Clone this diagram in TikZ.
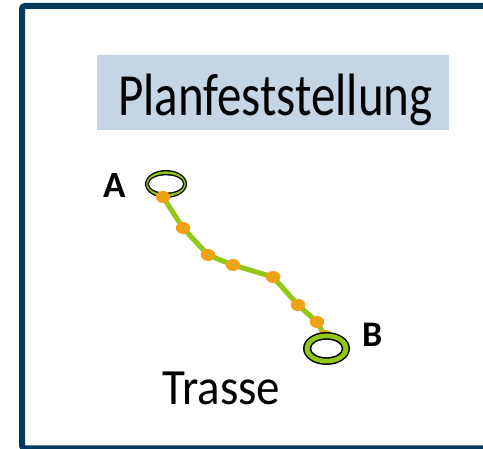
\documentclass[tikz,border=0pt]{standalone}
\usepackage{fontspec}
\setmainfont{Carlito}
\usetikzlibrary{shapes.geometric}
\definecolor{frame}{RGB}{4,58,92}
\definecolor{boxblue}{RGB}{197,213,228}
\definecolor{lime}{RGB}{146,200,20}
\definecolor{dotorange}{RGB}{245,160,20}
\begin{document}
\begin{tikzpicture}[x=1pt,y=1pt,
  dot/.style={ellipse,minimum width=14pt,minimum height=12pt,inner sep=0pt},
  lbl/.style={inner sep=0pt,anchor=base west}]
\useasboundingbox (0,0) rectangle (483,449);
\begin{scope}
\clip (0,0) rectangle (483,449);
\fill[white] (0,0) rectangle (483,449);
\draw[frame,line width=6pt,rounded corners=3pt] (22,0.5) rectangle (530,443);
\end{scope}
\fill[boxblue] (97,319) rectangle (449,394);
\node[lbl] (title) at (118,333) {\scalebox{1}[1.22]{\fontsize{49}{54}\selectfont Planfeststellung}};
% route
\path (163,252) node[dot] (d1) {}
      (183,221) node[dot] (d2) {}
      (208,194) node[dot] (d3) {}
      (233,184) node[dot] (d4) {}
      (273,172) node[dot] (d5) {}
      (298,144) node[dot] (d6) {}
      (317,127) node[dot] (d7) {}
      (325,113) node[dot] (d8) {};
\coordinate (ra) at (166,265);
\coordinate (rb) at (326.5,100.5);
% ring A
\fill[black] (ra) ellipse [x radius=21, y radius=14];
\fill[lime] (ra) ellipse [x radius=19.7, y radius=12.6];
\fill[black] (ra) ellipse [x radius=18.3, y radius=10];
\fill[white] (ra) ellipse [x radius=17, y radius=8.6];
\draw[lime,line width=5pt,line join=round] (d1.center) -- (d2.center) -- (d3.center) -- (d4.center) -- (d5.center) -- (d6.center) -- (d7.center) -- (d8.center);
\foreach \n in {d1,d2,d3,d4,d5,d6,d7,d8} \fill[dotorange] (\n) ellipse [x radius=7.2, y radius=6];
\foreach \n in {d1,d2,d3,d4,d5,d6,d7,d8} \fill[lime] (\n) ellipse [x radius=1.5, y radius=1];
% ring B
\fill[black] (rb) ellipse [x radius=23.5, y radius=16.5];
\fill[lime] (rb) ellipse [x radius=22, y radius=15];
\fill[black] (rb) ellipse [x radius=16.8, y radius=10.2];
\fill[white] (rb) ellipse [x radius=15.2, y radius=8.6];
\node[lbl,font=\bfseries\fontsize{37}{40}\selectfont] (A) at (103,251) {A};
\node[lbl,font=\bfseries\fontsize{36}{40}\selectfont] (B) at (362,102) {B};
\node[lbl] (trasse) at (162,44) {\scalebox{1}[1.08]{\fontsize{47}{52}\selectfont Trasse}};
\end{tikzpicture}
\end{document}
